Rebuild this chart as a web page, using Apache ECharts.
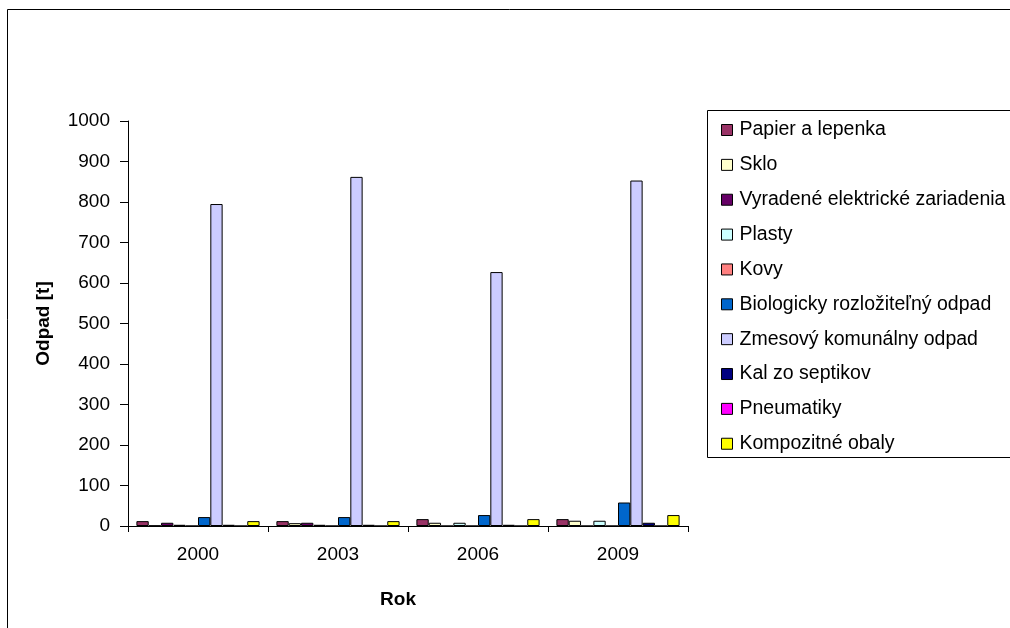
<!DOCTYPE html>
<html>
<head>
<meta charset="utf-8">
<script src="https://cdn.jsdelivr.net/npm/echarts@6/dist/echarts.min.js"></script>
<style>html,body{margin:0;padding:0;background:#fff}#c{width:1010px;height:628px}</style>
</head>
<body>
<div id="c"></div>
<script>
const categories = ['2000', '2003', '2006', '2009'];
const seriesNames = ['Papier a lepenka', 'Sklo', 'Vyradené elektrické zariadenia', 'Plasty', 'Kovy',
  'Biologicky rozložiteľný odpad', 'Zmesový komunálny odpad', 'Kal zo septikov', 'Pneumatiky', 'Kompozitné obaly'];
const papier = [12, 12, 17, 17];
const sklo = [1, 7, 8, 13];
const vyradene = [8, 8, 0, 0];
const plasty = [3, 3, 8, 13];
const kovy = [0, 0, 0, 0];
const bio = [22, 22, 27, 58];
const zmesovy = [795, 862, 627, 853];
const kal = [3, 3, 3, 8];
const pneumatiky = [0, 0, 0, 0];
const kompozitne = [12, 12, 17, 27];
const seriesValues = [papier, sklo, vyradene, plasty, kovy, bio, zmesovy, kal, pneumatiky, kompozitne];
const colors = ['#993366', '#FFFFCC', '#660066', '#CCFFFF', '#FF8080', '#0066CC', '#CCCCFF', '#000080', '#FF00FF', '#FFFF00'];
const yTicks = { min: 0, max: 1000, interval: 100 };

const FONT = '"Liberation Sans", Arial, sans-serif';
const chart = echarts.init(document.getElementById('c'), null, { renderer: 'canvas' });
chart.setOption({
  animation: false,
  backgroundColor: '#fff',
  color: colors,
  textStyle: { fontFamily: FONT, color: '#000' },
  grid: { left: 128, top: 121, right: 322, bottom: 102, containLabel: false },
  xAxis: {
    type: 'category',
    data: categories,
    name: 'Rok',
    nameLocation: 'middle',
    nameGap: 64,
    nameTextStyle: { fontFamily: FONT, fontWeight: 'bold', fontSize: 19, color: '#000', padding: [0, 20, 0, 0] },
    axisLine: { lineStyle: { color: '#000', width: 1 } },
    axisTick: { show: true, length: 6, lineStyle: { color: '#000' } },
    axisLabel: { fontFamily: FONT, fontSize: 19, color: '#000', margin: 19 },
    splitLine: { show: false }
  },
  yAxis: {
    type: 'value',
    min: yTicks.min, max: yTicks.max, interval: yTicks.interval,
    name: 'Odpad [t]',
    nameLocation: 'middle',
    nameGap: 75,
    nameRotate: 90,
    nameTextStyle: { fontFamily: FONT, fontWeight: 'bold', fontSize: 19, color: '#000' },
    axisLine: { show: true, lineStyle: { color: '#000', width: 1 } },
    axisTick: { show: true, length: 8, lineStyle: { color: '#000' } },
    axisLabel: { fontFamily: FONT, fontSize: 19, color: '#000', margin: 18, formatter: v => String(v) },
    splitLine: { show: false }
  },
  legend: {
    orient: 'vertical',
    left: 716, top: 115,
    itemWidth: 11, itemHeight: 11,
    itemGap: 14.86,
    icon: 'rect',
    itemStyle: { borderColor: '#000', borderWidth: 1 },
    textStyle: { fontFamily: FONT, fontSize: 19.5, color: '#000', lineHeight: 20, padding: [0, 0, 0, 2] },
    data: seriesNames
  },
  graphic: [
    { type: 'rect', shape: { x: 7.5, y: 9.5, width: 1100, height: 700 }, style: { fill: 'none', stroke: '#000', lineWidth: 1 }, z: -1 },
    { type: 'rect', shape: { x: 707.5, y: 110.5, width: 400, height: 347 }, style: { fill: 'none', stroke: '#000', lineWidth: 1 }, z: -1 }
  ],
  series: seriesNames.map((n, i) => ({
    name: n,
    type: 'bar',
    data: seriesValues[i],
    barGap: '0%',
    barCategoryGap: '12%',
    itemStyle: { color: colors[i], borderColor: '#000', borderWidth: 1 }
  }))
});
</script>
</body>
</html>
